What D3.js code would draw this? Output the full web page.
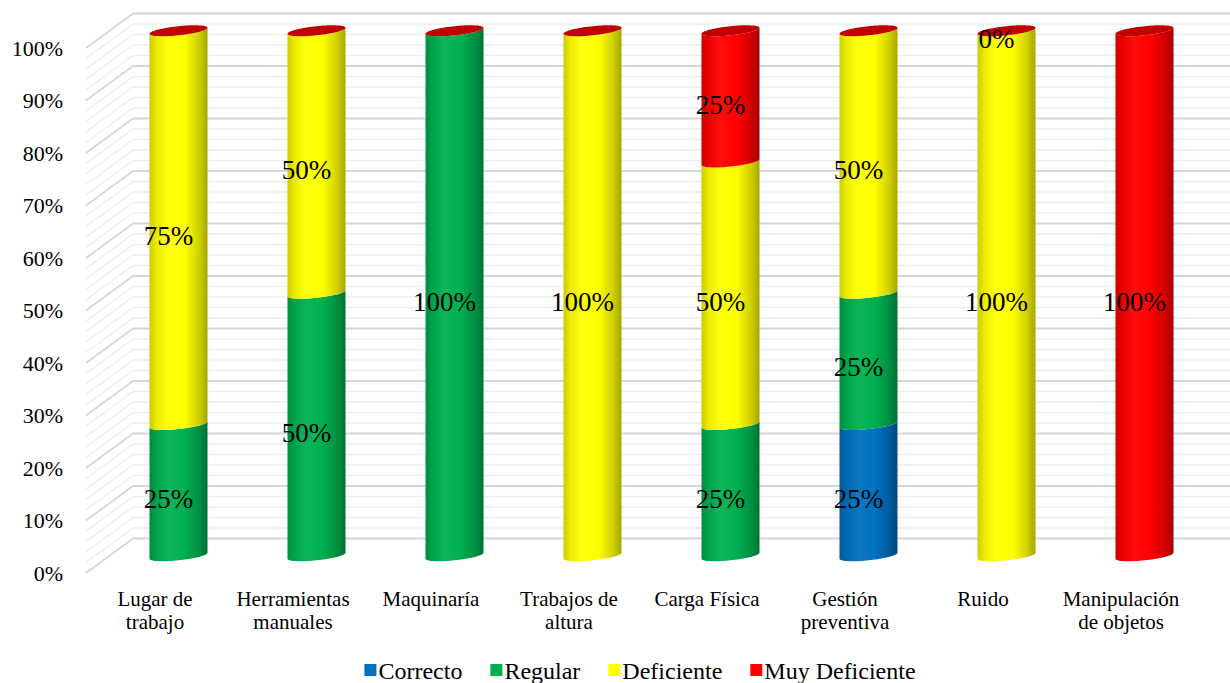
<!DOCTYPE html>
<html>
<head>
<meta charset="utf-8">
<script src="https://cdn.jsdelivr.net/npm/d3@7"></script>
<style>
  html, body { margin: 0; padding: 0; background: #fff; }
  svg { display: block; }
  svg text { font-family: "Liberation Serif", "Times New Roman", "DejaVu Serif", serif; }
</style>
</head>
<body>
<svg id="chart" width="1230" height="683"></svg>
<script>
// Categories and stacked percentages (null = no value in that cell)
const categories = ["Lugar de trabajo", "Herramientas manuales", "Maquinaría", "Trabajos de altura",
                    "Carga Física", "Gestión preventiva", "Ruido", "Manipulación de objetos"];
const correcto      = [null, null, null, null, null, 25, null, null];
const regular       = [25, 50, 100, null, 25, 25, null, null];
const deficiente    = [75, 50, null, 100, 50, 50, 100, null];
const muyDeficiente = [null, null, null, null, 25, null, 0, 100];
const seriesNames   = ["Correcto", "Regular", "Deficiente", "Muy Deficiente"];
const yTicks        = [0, 10, 20, 30, 40, 50, 60, 70, 80, 90, 100];

const seriesValues = [correcto, regular, deficiente, muyDeficiente];
const colors = ["#0070C0", "#00B050", "#FFFF00", "#FF0000"];
const capColor = "#C00000";
const FONT = "Liberation Serif, Times New Roman, DejaVu Serif, serif";

const svg = d3.select("#chart");
const defs = svg.append("defs");

// Oblique 3D frame: front plane, back wall offset by (depthX, depthY)
const depthX = 47, depthY = -34.5;
const y = d3.scaleLinear().domain([0, 100]).range([573, 48]);
const x = d3.scaleBand().domain(categories).range([86, 1190]).paddingInner(0).paddingOuter(0);

// Gridlines: back wall and left side wall, every 2%, major every 10%
const gridVals = d3.range(0, 101, 2);
const grid = svg.append("g");
gridVals.forEach(v => {
  const major = v % 10 === 0;
  const yf = y(v), yb = y(v) + depthY;
  const stroke = major ? "#D6D6D6" : "#EDEDED";
  const w = major ? 1.8 : 1.4;
  grid.append("line").attr("x1", 86 + depthX).attr("x2", 1230).attr("y1", yb).attr("y2", yb)
    .attr("stroke", stroke).attr("stroke-width", w);
  grid.append("line").attr("x1", 86).attr("y1", yf).attr("x2", 86 + depthX).attr("y2", yb)
    .attr("stroke", stroke).attr("stroke-width", w);
});

// Y axis labels
svg.append("g").selectAll("text").data(yTicks).join("text")
  .attr("font-family", FONT)
  .attr("x", 63).attr("y", d => y(d)).attr("dy", "0.35em")
  .attr("text-anchor", "end").attr("font-size", 22).attr("fill", "#000")
  .text(d => d3.format(".0%")(d / 100));

// Cylinder shading gradients
function shade(c, k) { return d3.interpolateRgb(c, "#000")(k); }
colors.forEach((c, i) => {
  const g = defs.append("linearGradient").attr("id", "cyl" + i)
    .attr("x1", "0%").attr("x2", "100%").attr("y1", "0%").attr("y2", "0%");
  [[0, shade(c, 0.2)], [0.12, shade(c, 0.08)], [0.32, d3.interpolateRgb(c, "#fff")(0.05)],
   [0.6, c], [0.85, shade(c, 0.18)], [1, shade(c, 0.35)]]
    .forEach(([o, col]) => g.append("stop").attr("offset", o).attr("stop-color", col));
});

// Cylinders sit at mid depth
const rx = 29, ry = 4.6, shear = 3 / rx;
const midY = v => y(v) + depthY / 2;
const cxOf = cat => x(cat) + x.bandwidth() / 2 + depthX / 2;

function ellPt(cx, cy, t) {
  return [cx + rx * Math.cos(t), cy + ry * Math.sin(t) - shear * rx * Math.cos(t)];
}
const N = 40;
function lowerArc(cx, cy, reverse) {
  const pts = d3.range(N + 1).map(i => Math.PI - Math.PI * i / N).map(t => ellPt(cx, cy, t));
  return reverse ? pts.reverse() : pts;
}
const line = d3.line();

const bars = svg.append("g");
const labels = [];
categories.forEach((cat, ci) => {
  const cx = cxOf(cat);
  let acc = 0;
  seriesValues.forEach((vals, si) => {
    const v = vals[ci];
    if (v === null) return;
    const y0 = midY(acc), y1 = midY(acc + v);
    if (v > 0) {
      const pts = [ellPt(cx, y1, Math.PI), ...lowerArc(cx, y0, false), ...lowerArc(cx, y1, true)];
      bars.append("path").attr("d", line(pts) + "Z").attr("fill", `url(#cyl${si})`);
    }
    labels.push({ cx, y: midY(acc + v / 2), v });
    acc += v;
  });
  // top cap
  const capPts = d3.range(N * 2 + 1).map(i => 2 * Math.PI * i / (N * 2)).map(t => ellPt(cx, midY(acc), t));
  bars.append("path").attr("d", line(capPts) + "Z").attr("fill", capColor);
});

// Data labels
svg.append("g").selectAll("text").data(labels).join("text")
  .attr("font-family", FONT)
  .attr("x", d => d.cx - 10).attr("y", d => d.y + 8).attr("dy", "0.35em")
  .attr("text-anchor", "middle").attr("font-size", 27).attr("fill", "#000")
  .text(d => d.v + "%");

// Category labels, wrapped to fit the band
const catG = svg.append("g");
categories.forEach(cat => {
  const t = catG.append("text").attr("font-family", FONT)
    .attr("x", x(cat) + x.bandwidth() / 2).attr("y", 606)
    .attr("text-anchor", "middle").attr("font-size", 21).attr("fill", "#000");
  const words = cat.split(" ");
  let lines = [], cur = [];
  const probe = t.append("tspan");
  words.forEach(w => {
    const test = cur.concat(w).join(" ");
    probe.text(test);
    if (probe.node().getComputedTextLength() > 125 && cur.length) { lines.push(cur.join(" ")); cur = [w]; }
    else cur.push(w);
  });
  lines.push(cur.join(" "));
  probe.remove();
  lines.forEach((l, i) => t.append("tspan").attr("x", x(cat) + x.bandwidth() / 2)
    .attr("dy", i === 0 ? 0 : 23).text(l));
});

// Legend
const leg = svg.append("g");
let lx = 0;
seriesNames.forEach((name, i) => {
  const g = leg.append("g");
  g.append("rect").attr("x", 0).attr("y", -15).attr("width", 12).attr("height", 12).attr("fill", colors[i]);
  const tx = g.append("text").attr("font-family", FONT)
    .attr("x", 14).attr("y", 0).attr("font-size", 24).attr("fill", "#000").text(name);
  const w = 14 + tx.node().getComputedTextLength();
  g.attr("transform", `translate(${lx},0)`);
  lx += w + 28;
});
const legW = lx - 28;
leg.attr("transform", `translate(${640 - legW / 2},679)`);
</script>
</body>
</html>
